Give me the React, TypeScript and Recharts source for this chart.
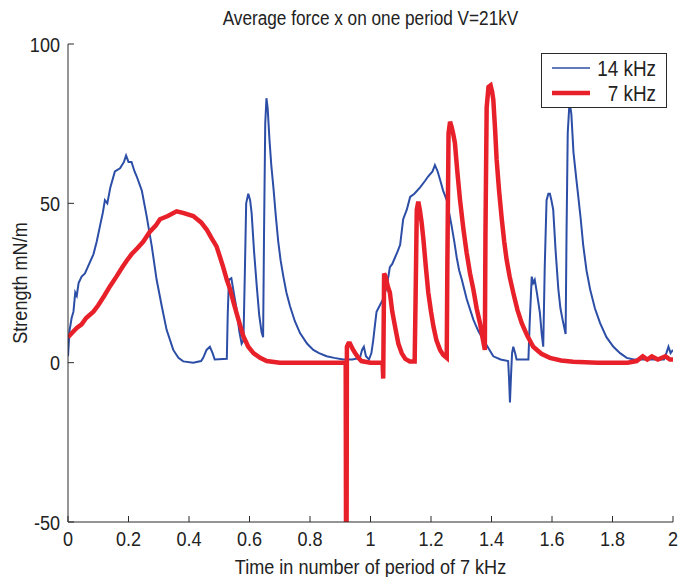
import { LineChart, Line, XAxis, YAxis, Legend } from 'recharts';

// 14 kHz series (blue)
const blueX = [
  0, 0.005, 0.012, 0.018, 0.024, 0.029, 0.035, 0.045, 0.056, 0.07, 0.084, 0.095, 0.106, 0.115, 0.122, 0.13,
  0.14, 0.155, 0.172, 0.185, 0.192, 0.2, 0.21, 0.22, 0.227, 0.244, 0.26, 0.277, 0.293, 0.31, 0.326, 0.348,
  0.365, 0.381, 0.414, 0.44, 0.447, 0.458, 0.469, 0.478, 0.485, 0.525, 0.528, 0.532, 0.54, 0.548, 0.557, 0.566,
  0.574, 0.58, 0.585, 0.589, 0.596, 0.602, 0.607, 0.615, 0.624, 0.632, 0.64, 0.645, 0.648, 0.652, 0.656, 0.66,
  0.666, 0.672, 0.679, 0.687, 0.695, 0.703, 0.712, 0.722, 0.734, 0.75, 0.767, 0.79, 0.811, 0.83, 0.855, 0.88,
  0.91, 0.94, 0.965, 0.972, 0.978, 0.985, 0.995, 1.003, 1.009, 1.015, 1.02, 1.031, 1.042, 1.054, 1.064, 1.072,
  1.081, 1.09, 1.098, 1.108, 1.12, 1.131, 1.145, 1.164, 1.18, 1.191, 1.205, 1.213, 1.222, 1.23, 1.24, 1.252,
  1.26, 1.268, 1.277, 1.285, 1.293, 1.302, 1.318, 1.34, 1.356, 1.373, 1.39, 1.406, 1.43, 1.455, 1.458, 1.461,
  1.465, 1.468, 1.472, 1.478, 1.483, 1.522, 1.526, 1.533, 1.538, 1.543, 1.55, 1.56, 1.566, 1.571, 1.576, 1.582,
  1.588, 1.593, 1.598, 1.604, 1.612, 1.621, 1.628, 1.635, 1.645, 1.648, 1.652, 1.658, 1.664, 1.671, 1.68, 1.687,
  1.695, 1.703, 1.714, 1.726, 1.742, 1.759, 1.78, 1.803, 1.825, 1.847, 1.87, 1.89, 1.93, 1.97, 1.978, 1.985,
  1.992, 2.0,
];
const blueY = [
  2, 10, 14, 16, 22, 21, 25, 27, 28, 31, 34, 38, 43, 47, 51, 50,
  55, 60, 61, 63, 65, 63, 63, 60, 58.5, 54, 46, 36.5, 26, 17.7, 10.3, 4,
  1.5, 0.4, 0, 0.5, 1.5, 4, 5, 3, 1, 1.2, 15, 26, 26.5, 22, 17, 10,
  6, 7, 30, 50, 53, 51, 47, 35, 24, 15, 9.5, 8, 40, 75, 83, 80,
  70, 62, 55, 46, 38, 32, 27, 22, 17.7, 13, 9.3, 6, 4, 3, 2, 1.5,
  1, 1, 1.5, 4, 5, 2, 1, 3, 7, 12, 16, 18, 20, 24, 30, 31,
  33, 35, 37, 45, 48, 52, 53, 55, 57, 58.5, 60, 62, 60, 57.4, 54, 51,
  47, 43, 38, 33, 29, 26, 20, 13.5, 10, 7.2, 4.5, 2, 1, 0.5, -5, -12.5,
  -3, 3, 5, 3, 1, 1, 12, 27, 25, 26, 22, 15.6, 9, 5, 30, 51,
  53, 53, 51, 48, 35, 23, 17, 13.5, 9, 40, 72, 82, 78, 66, 58, 52,
  45, 37, 29, 23, 17, 12.4, 8, 5, 3, 1.5, 1, 1, 1, 1, 3, 5,
  3, 4,
];

// 7 kHz series (red)
const redX = [
  0, 0.01, 0.02, 0.03, 0.045, 0.06, 0.084, 0.1, 0.12, 0.139, 0.16, 0.18, 0.194, 0.21, 0.23, 0.249,
  0.27, 0.29, 0.304, 0.33, 0.359, 0.38, 0.414, 0.44, 0.459, 0.475, 0.491, 0.503, 0.513, 0.525, 0.536, 0.547,
  0.557, 0.568, 0.58, 0.596, 0.613, 0.635, 0.657, 0.7, 0.8, 0.9, 0.918, 0.919, 0.921, 0.922, 0.927, 0.932,
  0.94, 0.949, 0.96, 0.97, 1.0, 1.04, 1.042, 1.045, 1.05, 1.057, 1.064, 1.072, 1.081, 1.092, 1.103, 1.115,
  1.13, 1.146, 1.149, 1.153, 1.158, 1.163, 1.169, 1.175, 1.183, 1.191, 1.2, 1.208, 1.218, 1.23, 1.24, 1.252,
  1.254, 1.258, 1.263, 1.268, 1.273, 1.279, 1.287, 1.296, 1.307, 1.318, 1.329, 1.34, 1.351, 1.362, 1.37, 1.378,
  1.38, 1.384, 1.39, 1.397, 1.402, 1.406, 1.412, 1.417, 1.425, 1.434, 1.442, 1.45, 1.46, 1.472, 1.486, 1.5,
  1.518, 1.538, 1.565, 1.593, 1.63, 1.67, 1.75, 1.85, 1.88, 1.9, 1.915, 1.93, 1.95, 1.975, 1.99, 2.0,
];
const redY = [
  8, 9, 10, 11, 12, 14, 16, 18, 21, 24, 27, 30, 32, 34, 36, 38,
  41, 43, 45, 46, 47.5, 47, 46, 44, 41.7, 39, 36.5, 33, 30, 26, 23, 19,
  15.6, 12, 8.2, 5, 3, 1.5, 0.5, 0, 0, 0, 0, -50, -50, 5, 6, 6,
  4.5, 3, 1.5, 0.5, 0, 0, -5, 28, 27, 24, 22, 16, 11.4, 6, 3, 1.2,
  0.4, 0.4, 20, 48, 50.5, 48, 44, 38.6, 30, 22, 16, 11.4, 7, 4, 2.5, 1.5,
  30, 72, 75.6, 74, 72, 69, 60, 51, 42, 34.4, 28, 23, 17, 12.4, 8, 4,
  40, 80, 86.5, 87, 85, 82.5, 73, 63.7, 54, 45, 38, 32.3, 27, 21.9, 16.5, 12.4,
  8.5, 5, 2.8, 1.5, 0.7, 0.3, 0, 0, 0.5, 2, 1, 2, 1, 2, 1, 1,
];

const xTicks = [0, 0.2, 0.4, 0.6, 0.8, 1, 1.2, 1.4, 1.6, 1.8, 2];
const yTicks = [-50, 0, 50, 100];

const blueData = blueX.map((x, i) => ({ x, v: blueY[i] }));
const redData = redX.map((x, i) => ({ x, v: redY[i] }));

const FONT = '"Liberation Sans", Arial, sans-serif';
const BLUE = '#2c4ea6';
const RED = '#e8202a';
const AXIS = '#2a2a2a';
const TXT = '#222';
const SQUEEZE = 0.86; // the original uses a condensed face

function XTick(props: any) {
  const { x, y, payload } = props;
  return (
    <g transform={`translate(${x},${y}) scale(${SQUEEZE},1)`}>
      <text textAnchor="middle" dy="0.71em" fill={TXT} fontSize={21} fontFamily={FONT}>
        {payload.value}
      </text>
    </g>
  );
}

function YTick(props: any) {
  const { x, y, payload } = props;
  return (
    <g transform={`translate(${x},${y}) scale(${SQUEEZE},1)`}>
      <text textAnchor="end" dy="0.36em" fill={TXT} fontSize={21} fontFamily={FONT}>
        {payload.value}
      </text>
    </g>
  );
}

function LegendBox() {
  return (
    <div
      style={{
        width: 126,
        height: 55,
        border: `1px solid ${AXIS}`,
        background: '#fff',
        boxSizing: 'border-box',
        position: 'relative',
      }}
    >
      <svg width={124} height={53} style={{ position: 'absolute', left: 0, top: 0 }}>
        <line x1={10} x2={48} y1={14} y2={14} stroke={BLUE} strokeWidth={1.5} />
        <line x1={10} x2={48} y1={39} y2={39} stroke={RED} strokeWidth={4.5} />
        <g transform={`translate(114,14) scale(${SQUEEZE},1)`}>
          <text textAnchor="end" dy="0.36em" fill={TXT} fontSize={22} fontFamily={FONT}>
            14 kHz
          </text>
        </g>
        <g transform={`translate(114,39) scale(${SQUEEZE},1)`}>
          <text textAnchor="end" dy="0.36em" fill={TXT} fontSize={22} fontFamily={FONT}>
            7 kHz
          </text>
        </g>
      </svg>
    </div>
  );
}

const squeezed = {
  position: 'absolute' as const,
  fontFamily: FONT,
  color: TXT,
  whiteSpace: 'nowrap' as const,
  textAlign: 'center' as const,
};

export default function App() {
  return (
    <div style={{ position: 'absolute', top: 0, left: 0, width: 681, height: 577, overflow: 'hidden' }}>
      <LineChart width={681} height={577} margin={{ top: 44, right: 8, bottom: 0, left: 0 }}>
        <XAxis
          xAxisId="b"
          type="number"
          dataKey="x"
          domain={[0, 2]}
          ticks={xTicks}
          tickSize={-6}
          tickMargin={15}
          height={55}
          stroke={AXIS}
          tick={<XTick />}
          allowDataOverflow
        />
        <XAxis
          xAxisId="t"
          orientation="top"
          type="number"
          dataKey="x"
          domain={[0, 2]}
          ticks={xTicks}
          tickSize={-6}
          height={0}
          stroke={AXIS}
          tick={false}
          allowDataOverflow
        />
        <YAxis
          yAxisId="l"
          type="number"
          domain={[-50, 100]}
          ticks={yTicks}
          tickSize={-6}
          tickMargin={14}
          width={68}
          stroke={AXIS}
          tick={<YTick />}
          allowDataOverflow
        />
        <YAxis
          yAxisId="r"
          orientation="right"
          type="number"
          domain={[-50, 100]}
          ticks={yTicks}
          tickSize={-6}
          width={0}
          stroke={AXIS}
          tick={false}
          allowDataOverflow
        />
        <Legend
          layout="vertical"
          align="center"
          verticalAlign="middle"
          wrapperStyle={{ left: 541, top: 53, width: 126 }}
          content={() => <LegendBox />}
        />
        <Line
          xAxisId="b"
          yAxisId="l"
          data={blueData}
          dataKey="v"
          name="14 kHz"
          type="linear"
          stroke={BLUE}
          strokeWidth={2}
          dot={false}
          isAnimationActive={false}
        />
        <Line
          xAxisId="b"
          yAxisId="l"
          data={redData}
          dataKey="v"
          name="7 kHz"
          type="linear"
          stroke={RED}
          strokeWidth={4.5}
          dot={false}
          isAnimationActive={false}
        />
      </LineChart>
      <div style={{ ...squeezed, left: 68, top: 7, width: 605, fontSize: 20, lineHeight: '22px', transform: `scaleX(${SQUEEZE})` }}>
        Average force x on one period V=21kV
      </div>
      <div style={{ ...squeezed, left: 68, top: 555, width: 605, fontSize: 21, lineHeight: '24px', transform: `scaleX(${SQUEEZE})` }}>
        Time in number of period of 7 kHz
      </div>
      <div
        style={{
          ...squeezed,
          left: 20 - 100,
          top: 283 - 12,
          width: 200,
          fontSize: 21,
          lineHeight: '24px',
          transform: `rotate(-90deg) scaleX(${SQUEEZE})`,
        }}
      >
        Strength mN/m
      </div>
    </div>
  );
}
